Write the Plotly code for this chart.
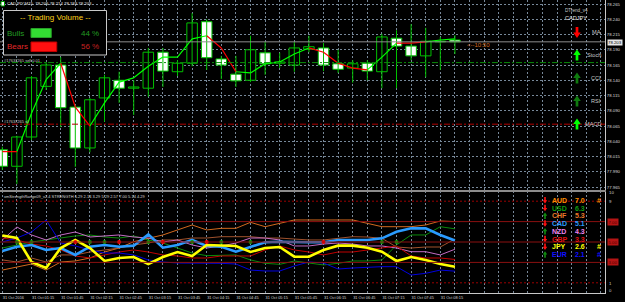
import plotly.graph_objects as go

# ---------------- data ----------------
bars = list(range(32))
date_labels = ["31 Oct 2016", "31 Oct 01:15", "31 Oct 01:45", "31 Oct 02:15", "31 Oct 02:45",
               "31 Oct 03:15", "31 Oct 03:45", "31 Oct 04:15", "31 Oct 04:45", "31 Oct 05:15",
               "31 Oct 05:45", "31 Oct 06:15", "31 Oct 06:45", "31 Oct 07:15", "31 Oct 07:45",
               "31 Oct 08:15"]

open_ = [78.026, 77.999, 78.047, 78.130, 78.165, 78.096, 78.029, 78.111, 78.140, 78.127,
         78.127, 78.186, 78.154, 78.168, 78.236, 78.175, 78.150, 78.140, 78.185, 78.168,
         78.165, 78.191, 78.193, 78.167, 78.160, 78.168, 78.154, 78.209, 78.196, 78.180,
         78.204, 78.206]
high = [78.031, 78.049, 78.147, 78.170, 78.178, 78.099, 78.111, 78.149, 78.154, 78.140,
        78.193, 78.193, 78.173, 78.250, 78.240, 78.180, 78.180, 78.213, 78.203, 78.185,
        78.203, 78.213, 78.201, 78.190, 78.173, 78.173, 78.216, 78.222, 78.232, 78.226,
        78.211, 78.214]
low = [77.993, 77.970, 78.042, 78.124, 78.063, 77.998, 78.022, 78.072, 78.103, 78.083,
       78.113, 78.129, 78.147, 78.163, 78.157, 78.142, 78.129, 78.137, 78.149, 78.160,
       78.154, 78.186, 78.155, 78.152, 78.136, 78.140, 78.127, 78.127, 78.173, 78.145,
       78.157, 78.183]
close = [77.999, 78.047, 78.144, 78.165, 78.095, 78.029, 78.108, 78.144, 78.127, 78.129,
         78.186, 78.155, 78.168, 78.234, 78.177, 78.165, 78.139, 78.190, 78.167, 78.170,
         78.193, 78.195, 78.165, 78.158, 78.167, 78.155, 78.211, 78.196, 78.180, 78.204,
         78.203, 78.203]

ma = [78.023, 78.023, 78.086, 78.141, 78.168, 78.096, 78.065, 78.103, 78.137, 78.144,
      78.163, 78.178, 78.178, 78.208, 78.213, 78.193, 78.154, 78.152, 78.167, 78.170,
      78.183, 78.193, 78.186, 78.168, 78.160, 78.157, 78.178, 78.201, 78.201, 78.203,
      78.206, 78.208]
# trend of each MA segment (i -> i+1): 1 up (green), -1 down (red)
ma_trend = [-1, 1, 1, 1, -1, -1, 1, 1, 1, 1, 1, 1, 1, 1, -1, -1, 1, 1, 1, 1,
            1, -1, -1, -1, -1, 1, 1, -1, -1, 1, 1]

price_ticks = [77.965, 77.990, 78.015, 78.040, 78.065, 78.090, 78.115, 78.140,
               78.165, 78.190, 78.215, 78.240, 78.265]
last_price = 78.203
order_price = 78.169
stop_price = 78.068
ohlc_title = "CADJPY,M15  78.206 78.214 78.183 78.203"

bulls_pct = 44
bears_pct = 56

signals = ["MA", "Stoch", "CCI", "RSI", "MACD"]
signal_dir = [-1, 1, 1, 1, 1]
signal_strong = [True, True, False, False, True]

currencies = ["AUD", "USD", "CHF", "CAD", "NZD", "GBP", "JPY", "EUR"]
strength = {
    "AUD": [2.25, 2.55, 2.84, 2.25, 3.04, 3.14, 3.43, 4.02, 4.41, 5.03, 5.39, 5.69, 6.18, 6.67, 6.18, 6.34,
            6.34, 6.93, 6.50, 6.83, 7.16, 7.16, 7.16, 7.16, 7.16, 6.83, 6.50, 6.50, 6.50, 6.67, 7.06, 7.00],
    "USD": [4.41, 4.71, 5.00, 5.20, 5.39, 5.59, 5.69, 5.49, 5.39, 5.59, 5.20, 4.90, 4.41, 3.92, 3.66, 3.73,
            3.73, 3.24, 2.91, 2.81, 3.14, 2.94, 2.75, 2.91, 3.14, 3.14, 3.24, 4.71, 5.69, 5.69, 6.50, 6.29],
    "CHF": [3.24, 3.04, 3.43, 3.04, 3.73, 3.73, 4.02, 4.22, 4.41, 4.71, 4.90, 5.20, 5.20, 5.39, 5.39, 5.52,
            5.49, 5.52, 5.39, 5.39, 5.29, 5.20, 5.20, 5.39, 5.52, 5.49, 5.36, 4.51, 4.41, 4.51, 4.51, 5.29],
    "CAD": [4.12, 4.54, 4.71, 4.22, 4.41, 3.73, 4.54, 4.71, 4.54, 4.64, 5.75, 4.44, 4.71, 5.20, 4.61, 4.54,
            4.05, 4.54, 4.97, 5.03, 4.97, 4.97, 4.97, 5.20, 5.20, 5.20, 5.36, 6.01, 6.34, 6.34, 5.69, 5.14],
    "NZD": [5.20, 6.47, 5.69, 5.20, 5.69, 5.98, 5.49, 5.59, 5.69, 5.49, 5.39, 5.00, 5.20, 4.71, 4.41, 4.61,
            4.90, 5.39, 5.39, 5.20, 4.61, 4.61, 4.80, 4.90, 4.80, 4.61, 4.61, 4.41, 4.05, 4.05, 3.73, 4.29],
    "GBP": [5.39, 5.20, 4.80, 4.61, 4.22, 3.63, 3.43, 3.73, 4.02, 4.22, 4.02, 3.73, 3.63, 3.43, 3.43, 3.63,
            3.63, 3.63, 4.22, 4.61, 4.22, 4.02, 3.73, 4.02, 4.02, 4.22, 4.41, 4.61, 3.63, 3.43, 3.43, 3.29],
    "JPY": [5.64, 5.39, 3.04, 2.45, 4.41, 5.20, 4.41, 3.14, 3.43, 3.53, 2.84, 3.53, 4.02, 3.63, 4.71, 4.66,
            4.61, 4.02, 4.41, 4.51, 3.56, 3.56, 4.22, 4.64, 4.64, 4.44, 4.05, 3.14, 3.53, 3.24, 2.84, 2.57],
    "EUR": [5.00, 5.39, 5.98, 7.16, 4.90, 4.61, 4.22, 3.92, 3.92, 3.73, 3.24, 3.04, 2.94, 2.94, 2.91, 2.91,
            2.84, 2.25, 2.16, 2.16, 2.65, 3.04, 2.94, 2.35, 2.45, 2.55, 2.58, 2.58, 1.76, 1.93, 2.25, 2.14],
}
cur_dir = [-1, -1, 1, -1, 1, -1, -1, 1]
cur_flag = [True, False, False, False, False, False, True, True]
strength_title = "xmStrengthRange09_v2.4 STRENGTH 6.29 2.14 3.29 5.29 2.57 7.00 5.14 4.29"
signal_up_bars = [1, 2, 6, 7, 10, 13, 15, 17, 26, 27]
signal_dn_bars = [5, 8, 11, 14, 22]
signal_level = 5.0
levels_solid = [7, 5, 3]
levels_dot = [9, 1]

# ---------------- style ----------------
line_col = {"AUD": "#D2691E", "USD": "#0A8A0A", "CHF": "#A0522D", "CAD": "#2A9BFF",
            "NZD": "#C46BC4", "GBP": "#C00000", "JPY": "#FFFF00", "EUR": "#0000E0"}
text_col = {"AUD": "#FF8C00", "USD": "#109A10", "CHF": "#E8782A", "CAD": "#2A9BFF",
            "NZD": "#EE82EE", "GBP": "#E01010", "JPY": "#FFFF00", "EUR": "#1010FF"}
line_w = {"CAD": 2.6, "JPY": 2.6}
GRID = "#778899"
CANDLE = "#00C000"
W, H = 625, 302
L, R, T, B = 0, 20, 0, 9
PW, PH = W - L - R, H - T - B


def px(x):
    return x / PW


def py(y):
    return 1 - y / PH


fig = go.Figure()

# wicks
wx, wy = [], []
for i in bars:
    wx += [i, i, None]
    wy += [low[i], high[i], None]
fig.add_trace(go.Scatter(x=wx, y=wy, mode="lines", line=dict(color=CANDLE, width=1),
                         xaxis="x2", yaxis="y2", hoverinfo="skip", showlegend=False))
# bodies
min_body = 0.0009
body_base = [min(o, c) for o, c in zip(open_, close)]
body_h = [max(abs(c - o), min_body) for o, c in zip(open_, close)]
body_fill = ["#000000" if c > o else "#FFFFFF" for o, c in zip(open_, close)]
fig.add_trace(go.Bar(x=bars, y=body_h, base=body_base, width=0.72, xaxis="x2", yaxis="y2",
                     marker=dict(color=body_fill, line=dict(color=CANDLE, width=1)),
                     hoverinfo="skip", showlegend=False))

# MA two colours
for trend, col in [(1, "#00FF00"), (-1, "#FF0000")]:
    xs, ys = [], []
    for i, t in enumerate(ma_trend):
        if t == trend:
            xs += [bars[i], bars[i + 1], None]
            ys += [ma[i], ma[i + 1], None]
    fig.add_trace(go.Scatter(x=xs, y=ys, mode="lines", line=dict(color=col, width=1.2),
                             xaxis="x2", yaxis="y2", hoverinfo="skip", showlegend=False))

# strength lines
for c in ["AUD", "CHF", "USD", "NZD", "GBP", "EUR", "CAD", "JPY"]:
    fig.add_trace(go.Scatter(x=bars, y=strength[c], mode="lines",
                             line=dict(color=line_col[c], width=line_w.get(c, 1)),
                             xaxis="x", yaxis="y", hoverinfo="skip", showlegend=False))
fig.add_trace(go.Scatter(x=signal_up_bars, y=[signal_level] * len(signal_up_bars), mode="markers",
                         marker=dict(color="#0A9A0A", size=4), xaxis="x", yaxis="y", hoverinfo="skip"))
fig.add_trace(go.Scatter(x=signal_dn_bars, y=[signal_level] * len(signal_dn_bars), mode="markers",
                         marker=dict(color="#FF0000", size=4), xaxis="x", yaxis="y", hoverinfo="skip"))

shapes = []


def arrow(cx, cy, w, h, up, color):
    # arrow glyph: triangle head + stem, pixel sizes
    hh = h * 0.5
    sw = w * 0.36
    if up:
        pts = [(cx, cy - h / 2), (cx + w / 2, cy - h / 2 + hh), (cx + sw / 2, cy - h / 2 + hh),
               (cx + sw / 2, cy + h / 2), (cx - sw / 2, cy + h / 2), (cx - sw / 2, cy - h / 2 + hh),
               (cx - w / 2, cy - h / 2 + hh)]
    else:
        pts = [(cx, cy + h / 2), (cx + w / 2, cy + h / 2 - hh), (cx + sw / 2, cy + h / 2 - hh),
               (cx + sw / 2, cy - h / 2), (cx - sw / 2, cy - h / 2), (cx - sw / 2, cy + h / 2 - hh),
               (cx - w / 2, cy + h / 2 - hh)]
    path = "M " + " L ".join("%.5f,%.5f" % (px(a), py(b)) for a, b in pts) + " Z"
    shapes.append(dict(type="path", xref="paper", yref="paper", path=path, fillcolor=color,
                       line=dict(width=0)))


# price lines
shapes.append(dict(type="line", xref="paper", yref="y2", x0=0, x1=1, y0=last_price, y1=last_price,
                   line=dict(color="#8c8c8c", width=1)))
shapes.append(dict(type="line", xref="paper", yref="y2", x0=0, x1=1, y0=order_price, y1=order_price,
                   line=dict(color="#0A8A0A", width=1, dash="6px,2px,2px,2px")))
shapes.append(dict(type="line", xref="paper", yref="y2", x0=0, x1=1, y0=stop_price, y1=stop_price,
                   line=dict(color="#B00000", width=1, dash="6px,2px,2px,2px")))
# levels
for lv in levels_solid:
    shapes.append(dict(type="line", xref="paper", yref="y", x0=0, x1=1, y0=lv, y1=lv,
                       line=dict(color="#8B1010", width=1)))
for lv in levels_dot:
    shapes.append(dict(type="line", xref="paper", yref="y", x0=0, x1=1, y0=lv, y1=lv,
                       line=dict(color="#9A0000", width=1, dash="2px,2px")))
# trading volume panel
shapes.append(dict(type="rect", xref="paper", yref="paper", x0=px(3.5), x1=px(106.5), y0=py(55), y1=py(10.5),
                   line=dict(color="#C8C8C8", width=1), fillcolor="#000000"))
bar_scale = 0.46
shapes.append(dict(type="rect", xref="paper", yref="paper", x0=px(31), x1=px(31 + bulls_pct * bar_scale),
                   y0=py(37.5), y1=py(28.5), line=dict(color="#28A028", width=1), fillcolor="#33DD33"))
shapes.append(dict(type="rect", xref="paper", yref="paper", x0=px(31), x1=px(31 + bears_pct * bar_scale),
                   y0=py(51.5), y1=py(42), line=dict(color="#C00000", width=1), fillcolor="#FF1010"))
# small chart icon near the title
shapes.append(dict(type="rect", xref="paper", yref="paper", x0=px(1), x1=px(4.5), y0=py(6), y1=py(1.5),
                   line=dict(color="#00A000", width=1), fillcolor="#FFFFFF"))

ann = []


def txt(x, y, s, size, color, xa="left", ya="middle", bold=False, family="Liberation Sans", bg=None):
    d = dict(x=px(x), y=py(y), xref="paper", yref="paper",
             text=("<b>%s</b>" % s) if bold else s, showarrow=False, xanchor=xa, yanchor=ya,
             font=dict(size=size, color=color, family=family), borderpad=0)
    if bg:
        d["bgcolor"] = bg
    ann.append(d)


txt(6, 3.5, ohlc_title, 4.3, "#E0E0E0")
txt(55, 17.5, "-- Trading Volume --", 8, "#FFD21A", xa="center")
txt(6, 33, "Bulls", 8, "#239B23")
txt(99.5, 33, "%d %%" % bulls_pct, 8, "#239B23", xa="right")
txt(6, 47, "Bears", 8, "#E02828")
txt(99.5, 47, "%d %%" % bears_pct, 8, "#C82020", xa="right")
txt(3, 60.5, "#17637265 sell 0.01", 4, "#C8C8C8")
txt(3, 121.5, "#17637265 sl", 4, "#C8C8C8")
txt(576, 10.5, "DTrend_v4", 4.6, "#C8C8C8", xa="center")
txt(576, 18, "CADJPY", 5.6, "#E8E8E8", xa="center")
sig_y = [32.5, 55, 78, 101, 124]
for s, d, strong, yy in zip(signals, signal_dir, signal_strong, sig_y):
    col = "#FF0000" if d < 0 else ("#00FF00" if strong else "#0F7A0F")
    arrow(577, yy, 7.5, 11, d > 0, col)
    txt(602, yy, s, 5.6, "#C8C8C8", xa="right")
txt(466, 45, "<--10:50", 6, "#D2691E")
txt(3, 196.5, strength_title, 4, "#D8D8D8")

# axis side labels
txt(607, 42.7, "%.3f" % last_price, 4.3, "#000000", bg="#E6E6E6")
txt(608, 192.5, "10", 4.3, "#D0D0D0")
txt(608, 201, "9", 4.3, "#D0D0D0")
txt(608, 283, "1", 4.3, "#D0D0D0")
txt(608, 290.5, "0", 4.3, "#D0D0D0")
for lv in levels_solid:
    ann.append(dict(x=px(607), y=lv, xref="paper", yref="y", text="%.2f" % lv, showarrow=False,
                    xanchor="left", yanchor="middle", font=dict(size=4.3, color="#500000", family="Liberation Sans"),
                    bgcolor="#B41414", borderpad=0.5))

# currency legend
row0, dy = 200.3, 7.75
for k, c in enumerate(currencies):
    yy = row0 + k * dy
    d = cur_dir[k]
    arrow(545, yy, 4.5, 6.5, d > 0, "#FF1010" if d < 0 else "#108A10")
    txt(551, yy, c, 7, text_col[c], bold=True)
    txt(574, yy, "%.1f" % strength[c][-1], 7, text_col[c], bold=True)
    if cur_flag[k]:
        txt(596, yy, "#", 7, text_col[c], bold=True)

ticktext = []
for i in range(42):
    ticktext.append(date_labels[i // 2] if (i % 2 == 0 and i // 2 < len(date_labels)) else "")

grid = dict(showgrid=True, gridcolor=GRID, griddash="2px,2px", gridwidth=1)
fig.update_layout(
    width=W, height=H, margin=dict(l=L, r=R, t=T, b=B), paper_bgcolor="#000000", plot_bgcolor="#000000",
    showlegend=False, shapes=shapes, annotations=ann, barmode="overlay",
    xaxis=dict(anchor="y", domain=[0, 1], range=[-0.158, 41.28], tickmode="array", tickvals=list(range(42)),
               ticktext=ticktext, ticklabelposition="outside right", tickangle=0, ticks="",
               tickfont=dict(size=3.9, color="#D8D8D8", family="Liberation Sans"), zeroline=False,
               showline=True, linecolor="#C8C8C8", linewidth=1, **grid),
    xaxis2=dict(anchor="y2", matches="x", range=[-0.158, 41.28], tickmode="array", tickvals=list(range(42)),
                showticklabels=False, ticks="", zeroline=False, showline=True, linecolor="#8C8C8C",
                linewidth=2, **grid),
    yaxis=dict(anchor="x", domain=[0, 1 - 191 / PH], range=[0, 10], showgrid=False, showticklabels=False,
               zeroline=False, side="right", showline=True, linecolor="#C8C8C8", mirror=True, ticks=""),
    yaxis2=dict(anchor="x2", domain=[1 - 189.5 / PH, 1], range=[77.9609, 78.2716], side="right",
                tickmode="array", tickvals=price_ticks, ticktext=["%.3f" % v for v in price_ticks], ticks="",
                tickfont=dict(size=4.3, color="#D8D8D8", family="Liberation Sans"), zeroline=False,
                showline=True, linecolor="#C8C8C8", mirror=True, **grid),
)
fig.write_html("out.html")
